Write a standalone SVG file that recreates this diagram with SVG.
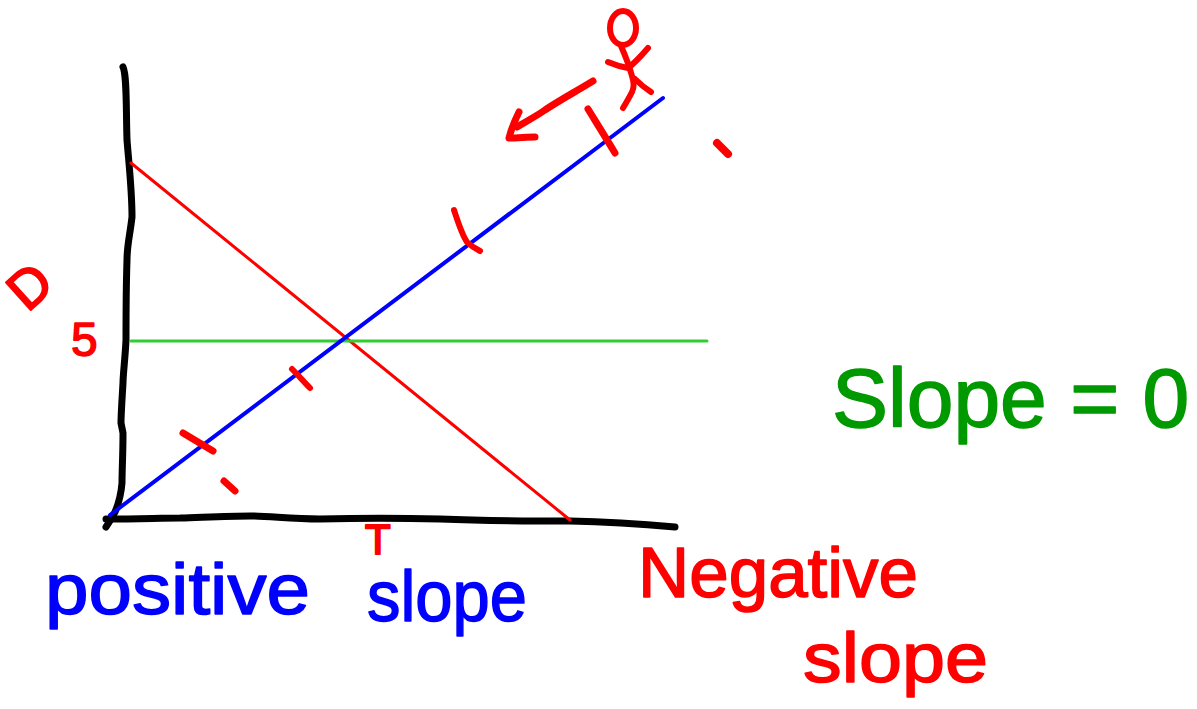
<svg xmlns="http://www.w3.org/2000/svg" width="1197" height="709" viewBox="0 0 1197 709">
<style>
.ink{fill:none;stroke-linecap:round;stroke-linejoin:round}
.red{stroke:#ff0000}
.blk{stroke:#000000}
.blu{stroke:#0000ff}
.grn{stroke:#33cc33}
.t{font-family:"Liberation Sans",Arial,sans-serif;stroke-linejoin:round;stroke-linecap:round}
.tr{fill:#ff0000;stroke:#ff0000}
.tb{fill:#0000ff;stroke:#0000ff}
.tg{fill:#009900;stroke:#009900}
</style>
<rect width="1197" height="709" fill="#ffffff"/>
<g id="axes">
<path class="ink blk" stroke-width="7" d="M123,67 C127,75 126,110 127,140 C129,165 132,190 132,217 C130,235 127,245 127,260 C126,290 126,320 126,340 C125,360 123,375 123,383 C122,400 121,415 121,423 L123,433 C123,455 122,470 122,483 C121,495 118,505 115,512 C112,518 108,524 106,527"/>
<path class="ink blk" stroke-width="7" d="M106,519 C140,519 160,518 180,518 C210,517 230,516 250,516 C270,516 290,519 320,519 C360,518 400,518 440,519 C490,521 530,521 570,521 C610,522 640,524 675,527"/>
</g>
<g id="connectors">
<line id="negative-line" class="ink red" stroke-width="3" x1="131" y1="163" x2="570" y2="520"/>
<line id="zero-line" class="ink grn" stroke-width="3" x1="131" y1="341" x2="707" y2="341"/>
<line id="positive-line" class="ink blu" stroke-width="4" x1="110" y1="515" x2="663" y2="98"/>
</g>
<g id="marks">
<path class="ink red" stroke-width="7" d="M183,433 L213,451"/>
<path class="ink red" stroke-width="7" d="M224,481 L235,491"/>
<path class="ink red" stroke-width="6" d="M292,369 C299,376 304,382 310,388"/>
<path class="ink red" stroke-width="6" d="M454,210 C458,222 462,235 467,242 C471,246 476,249 480,251"/>
<path class="ink red" stroke-width="7" d="M588,109 C596,122 606,138 615,153"/>
<path class="ink red" stroke-width="8" d="M717,143 L728,154"/>
</g>
<g id="arrow">
<path class="ink red" stroke-width="7" d="M593,81 C575,92 560,100 545,110 C535,117 525,122 517,127"/>
<path class="ink red" stroke-width="7" d="M519,112 C515,120 511,130 509,138 C518,138 527,137 535,137"/>
</g>
<g id="figure">
<ellipse class="ink red" stroke-width="6" cx="623" cy="28" rx="13" ry="17"/>
<path class="ink red" stroke-width="6" d="M608,62 C615,65 622,67 628,68 C636,62 642,55 648,48"/>
<path class="ink red" stroke-width="6" d="M621,46 C625,55 629,65 632,76 C634,82 634,88 632,92 C629,98 626,103 623,108"/>
<path class="ink red" stroke-width="6" d="M635,79 C640,84 645,88 651,92"/>
</g>
<g id="label-D">
<text class="t tr" stroke-width="2" font-size="54" text-anchor="middle" transform="translate(42,300) rotate(-42)">D</text>
</g>
<g id="label-5">
<text class="t tr" stroke-width="1.5" font-size="48" x="71" y="356">5</text>
</g>
<g id="label-T">
<text class="t tr" stroke-width="2" font-size="42" x="365" y="554">T</text>
</g>
<g id="label-positive-slope">
<text class="t tb" stroke-width="1.5" font-size="72" x="45" y="614" textLength="265" lengthAdjust="spacingAndGlyphs">positive</text>
<text class="t tb" stroke-width="1.5" font-size="72" x="367" y="621" textLength="160" lengthAdjust="spacingAndGlyphs">slope</text>
</g>
<g id="label-negative-slope">
<text class="t tr" stroke-width="1.5" font-size="70" x="638" y="597" textLength="280" lengthAdjust="spacingAndGlyphs">Negative</text>
<text class="t tr" stroke-width="1.5" font-size="70" x="803" y="682" textLength="185" lengthAdjust="spacingAndGlyphs">slope</text>
</g>
<g id="label-slope-zero">
<text class="t tg" stroke-width="1.5" font-size="84" x="832" y="427">Slope = 0</text>
</g>
</svg>
